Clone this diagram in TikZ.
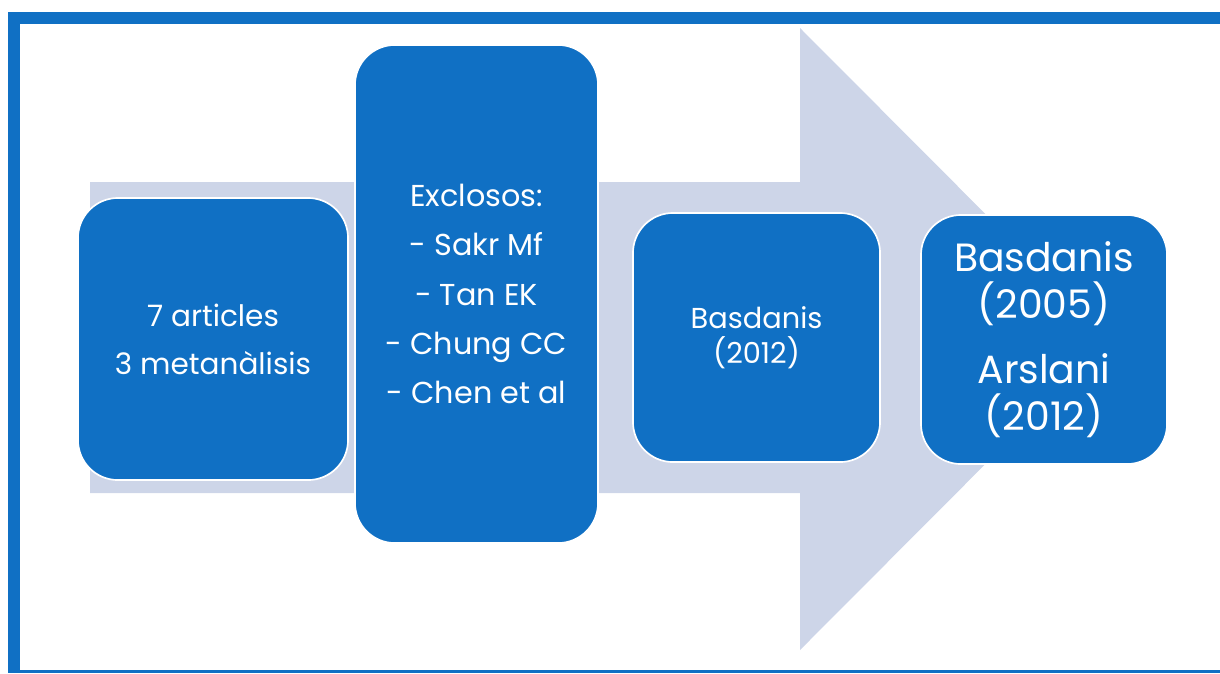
\documentclass[tikz,border=0pt]{standalone}
\usepackage{fontspec}
\setmainfont{Poppins}
\definecolor{cardblue}{HTML}{1070C4}
\definecolor{arrowgrey}{HTML}{CDD5E8}
\begin{document}
\begin{tikzpicture}[x=0.025cm, y=-0.025cm,
  card/.style={draw=white, line width=1.2pt, fill=cardblue, rounded corners=1cm,
    text=white, align=center, inner sep=0pt}]
% Set the canvas (1px = 0.025cm)
\useasboundingbox (0,0) rectangle (1220,673);

% Draw the frame
\fill[cardblue] (8,12) rectangle (1220,24);
\fill[cardblue] (8,12) rectangle (20,673);
\fill[cardblue] (8,670) rectangle (1220,673);

% Draw the big arrow behind the cards
\fill[arrowgrey] (90,182) -- (800,182) -- (800,28) -- (1110,339) -- (800,650) -- (800,493) -- (90,493) -- cycle;

% Draw the cards and insert the texts
\node[card, minimum width=6.75cm, minimum height=7.05cm, font=\fontsize{21}{34}\selectfont] (articles) at (213,339) {7 articles\\3 metanàlisis};
\node[card, minimum width=6.075cm, minimum height=12.45cm, font=\fontsize{21.5}{35}\selectfont] (exclosos) at (476.5,294) {Exclosos:\\- Sakr Mf\\- Tan EK\\- Chung CC\\- Chen et al};
\node[card, minimum width=6.175cm, minimum height=6.225cm, font=\fontsize{20.5}{25}\selectfont] (basdanis) at (756.5,337.5) {Basdanis\\(2012)};
\node[card, minimum width=6.15cm, minimum height=6.225cm, font=\fontsize{28}{33.5}\selectfont] (inclosos) at (1044,339.5) {Basdanis\\(2005)\\[13pt]Arslani\\(2012)};
\end{tikzpicture}
\end{document}
